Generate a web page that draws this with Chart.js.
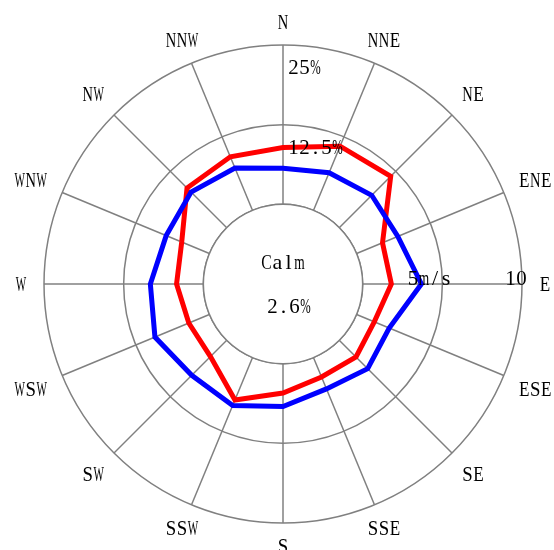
<!DOCTYPE html>
<html>
<head>
<meta charset="utf-8">
<script src="https://cdn.jsdelivr.net/npm/chart.js@4.4.1/dist/chart.umd.min.js"></script>
<style>
  html, body { margin: 0; padding: 0; background: #fff; }
  #wrap { width: 554px; height: 550px; }
</style>
</head>
<body>
<div id="wrap"><canvas id="chart"></canvas></div>
<script>
// Direcciones del viento (sentido horario desde el norte)
const directions = ['N', 'NNE', 'NE', 'ENE', 'E', 'ESE', 'SE', 'SSE',
                    'S', 'SSW', 'SW', 'WSW', 'W', 'WNW', 'NW', 'NNW'];

// Frecuencia por dirección (%), línea roja
const frequency = [8.9, 10.9, 11.4, 4.4, 4.5, 3.0, 3.7, 3.3,
                   4.6, 7.2, 3.6, 3.5, 4.2, 4.7, 8.8, 9.1];

// Velocidad media por dirección (m/s), línea azul
const speed = [4.84, 5.04, 5.25, 5.2, 5.79, 4.81, 5.01, 4.75,
               5.13, 5.5, 5.4, 5.8, 5.55, 5.29, 5.44, 5.25];

// Calmas
const calmLabel = 'Calm';
const calmValue = '2.6%';

// Etiquetas de los ejes
const freqTicks = [12.5, 25];
const freqTickLabels = ['12.5%', '25%'];
const speedTicks = [5, 10];
const speedTickLabels = ['5m/s', '10'];

const FONT_SIZE = 22;
const TEXT_COLOR = '#000';
const GRID_COLOR = '#808080';

// Dibuja texto imitando una fuente monoespaciada (celdas de ancho fijo).
function drawMono(ctx, text, x, y, align) {
    const cell = FONT_SIZE * 0.5;
    const total = cell * text.length;
    let start = x;
    if (align === 'center') start = x - total / 2;
    if (align === 'right') start = x - total;
    ctx.font = FONT_SIZE + 'px "Liberation Serif"';
    ctx.textAlign = 'center';
    ctx.textBaseline = 'alphabetic';
    ctx.fillStyle = TEXT_COLOR;
    const baseline = y + FONT_SIZE * 0.33;
    [...text].forEach((ch, i) => {
        const w = ctx.measureText(ch).width;
        const sx = Math.min(1, (cell * 0.95) / w);
        ctx.save();
        ctx.translate(start + cell * (i + 0.5), baseline);
        ctx.scale(sx, 1);
        ctx.fillText(ch, 0, 0);
        ctx.restore();
    });
}

const windRosePlugin = {
    id: 'windRose',
    beforeDatasetsDraw(chart) {
        // Círculo de calmas: tapa el centro de los radios
        const r = chart.scales.r;
        const ctx = chart.ctx;
        const calmR = r.getDistanceFromCenterForValue(0);
        ctx.save();
        ctx.beginPath();
        ctx.arc(r.xCenter, r.yCenter, calmR, 0, Math.PI * 2);
        ctx.fillStyle = '#fff';
        ctx.fill();
        ctx.lineWidth = 1.5;
        ctx.strokeStyle = GRID_COLOR;
        ctx.stroke();
        ctx.restore();
    },
    afterDraw(chart) {
        const r = chart.scales.r;
        const s = chart.scales.speed;
        const ctx = chart.ctx;
        ctx.save();

        // Etiquetas de dirección (las intermedias un poco más afuera)
        const outer = r.getDistanceFromCenterForValue(r.max);
        directions.forEach((label, i) => {
            const angle = i * Math.PI * 2 / directions.length;
            const cardinal = i % 4 === 0;
            const extra = cardinal ? 0 : 13 * Math.pow(Math.sin(angle), 2);
            const p = r.getPointPosition(i, outer + 23 + extra);
            drawMono(ctx, label, p.x, p.y, 'center');
        });

        // Porcentajes sobre el eje norte
        freqTicks.forEach((v, i) => {
            const p = r.getPointPositionForValue(0, v);
            drawMono(ctx, freqTickLabels[i], p.x + 5, p.y + 22, 'left');
        });

        // Velocidades sobre el eje este
        speedTicks.forEach((v, i) => {
            const p = s.getPointPositionForValue(4, v);
            if (i === speedTicks.length - 1) {
                drawMono(ctx, speedTickLabels[i], p.x - 6, p.y - 6, 'center');
            } else {
                drawMono(ctx, speedTickLabels[i], p.x + 5, p.y - 6, 'left');
            }
        });

        // Calmas en el centro
        drawMono(ctx, calmLabel, r.xCenter, r.yCenter - 22, 'center');
        drawMono(ctx, calmValue, r.xCenter + 6, r.yCenter + 22, 'center');

        ctx.restore();
    }
};

const ctx = document.getElementById('chart').getContext('2d');
const myChart = new Chart(ctx, {
    type: 'radar',
    data: {
        labels: directions,
        datasets: [
            {
                label: 'Speed (m/s)',
                data: speed,
                rAxisID: 'speed',
                borderColor: '#0000ff',
                borderWidth: 5,
                fill: false,
                pointRadius: 0,
                pointHoverRadius: 0
            },
            {
                label: 'Frequency (%)',
                data: frequency,
                rAxisID: 'r',
                borderColor: '#ff0000',
                borderWidth: 5,
                fill: false,
                pointRadius: 0,
                pointHoverRadius: 0
            }
        ]
    },
    options: {
        responsive: true,
        maintainAspectRatio: false,
        animation: false,
        layout: { padding: { left: 44, right: 32, top: 45, bottom: 27 } },
        elements: { line: { tension: 0, borderJoinStyle: 'miter' } },
        plugins: {
            legend: { display: false },
            tooltip: { enabled: false }
        },
        scales: {
            r: {
                min: -12.5,
                max: 25,
                ticks: { display: false, stepSize: 12.5 },
                pointLabels: { display: false },
                grid: { circular: true, color: GRID_COLOR, lineWidth: 1.5 },
                angleLines: { color: GRID_COLOR, lineWidth: 1.5 }
            },
            speed: {
                type: 'radialLinear',
                axis: 'r',
                min: 0,
                max: 10,
                ticks: { display: false },
                pointLabels: { display: false },
                grid: { display: false },
                angleLines: { display: false }
            }
        }
    },
    plugins: [windRosePlugin]
});
</script>
</body>
</html>
